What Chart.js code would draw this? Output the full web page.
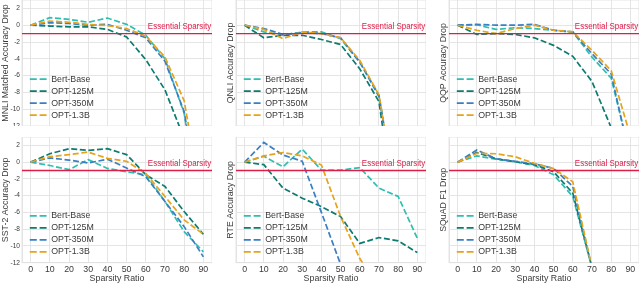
<!DOCTYPE html>
<html><head><meta charset="utf-8">
<script src="https://cdn.jsdelivr.net/npm/chart.js@4.4.0/dist/chart.umd.min.js"></script>
<style>
html,body{margin:0;padding:0;background:#fff;width:640px;height:283px;overflow:hidden;position:relative;}
.c{position:absolute;}
canvas{display:block;}
</style></head><body>
<script>
// ---------- data ----------
const sparsity = [0, 10, 20, 30, 40, 50, 60, 70, 80, 90];
const squadSparsity = [0, 10, 20, 30, 40, 50, 60, 70];
const seriesNames = ['Bert-Base', 'OPT-125M', 'OPT-350M', 'OPT-1.3B'];
const xTicks = [0, 10, 20, 30, 40, 50, 60, 70, 80, 90];
const yTicks = [2, 0, -2, -4, -6, -8, -10, -12];
const essentialLevel = -1;
const essentialText = 'Essential Sparsity';
const xTitle = 'Sparsity Ratio';

const mnliBert = [0, 0.9, 0.7, 0.35, 0.85, 0.1, -1.2, -4.0, -10.5, -25];
const mnli125m = [0, -0.1, -0.2, -0.2, -0.5, -1.4, -4.1, -7.7, -13.5, -20];
const mnli350m = [0, 0.3, 0.2, 0.0, 0.1, -0.6, -1.5, -4.3, -10.3, -24];
const mnli13b  = [0, 0.5, 0.35, 0.1, -0.05, -0.4, -1.3, -3.8, -9.0, -22];

const qnliBert = [0, -0.8, -1.2, -0.8, -0.8, -1.6, -4.4, -8.3, -22, -30];
const qnli125m = [0, -1.5, -1.2, -1.2, -1.7, -2.3, -5.2, -9.1, -25, -30];
const qnli350m = [0, -0.4, -1.1, -0.9, -1.0, -1.5, -4.4, -8.5, -22, -30];
const qnli13b  = [0, -0.5, -1.6, -0.8, -1.0, -1.5, -4.2, -8.3, -22, -30];

const qqpBert = [0, 0.05, -0.5, -0.3, -0.4, -0.6, -0.8, -3.8, -6.3, -15.5];
const qqp125m = [0, -1.1, -1.0, -1.1, -1.5, -2.4, -3.7, -6.7, -12.2, -17];
const qqp350m = [0, 0.1, 0.0, 0.0, 0.1, -0.6, -0.8, -3.4, -5.8, -16];
const qqp13b  = [0, -0.6, -1.0, -0.4, 0.0, -0.6, -0.8, -3.0, -5.4, -13.2];

const sstBert = [0, -0.4, -0.9, 0.3, -0.75, -1.15, -1.5, -4.7, -8.3, -10.7];
const sst125m = [0, 1.0, 1.6, 1.4, 1.6, 0.9, -1.5, -2.9, -5.9, -8.6];
const sst350m = [0, 0.5, 0.25, -0.1, 0.35, -0.7, -1.75, -4.7, -7.7, -11.3];
const sst13b  = [0, 0.65, 0.9, 1.2, 0.45, 0.1, -1.35, -4.1, -6.9, -8.6];

const rteBert = [0, 0.7, -0.55, 1.55, -0.95, -0.95, -0.65, -3.1, -4.1, -9.1];
const rte125m = [0, -0.3, -3.1, -4.3, -5.3, -6.5, -9.7, -9.0, -9.4, -10.8];
const rte350m = [0, 2.35, 0.85, 0.1, -6.0, -12.2, -15, -16, -18, -20];
const rte13b  = [0, 0.75, 1.15, 0.75, -0.35, -6.5, -11.5, -15, -17, -19];

const squadBert = [0, 0.75, 0.35, 0.05, -0.4, -1.5, -4.1, -12.6];
const squad125m = [0, 1.15, 0.4, 0.05, -0.3, -1.15, -3.7, -12.6];
const squad350m = [0, 1.45, 0.4, 0.1, -0.2, -0.75, -2.9, -12.6];
const squad13b  = [0, 1.05, 1.0, 0.65, -0.15, -0.75, -2.35, -12.6];

const panels = [
  {row: 0, col: 0, ylabel: 'MNLI Matched Accuracy Drop', x: sparsity, series: [mnliBert, mnli125m, mnli350m, mnli13b]},
  {row: 0, col: 1, ylabel: 'QNLI Accuracy Drop', x: sparsity, series: [qnliBert, qnli125m, qnli350m, qnli13b]},
  {row: 0, col: 2, ylabel: 'QQP Accuracy Drop', x: sparsity, series: [qqpBert, qqp125m, qqp350m, qqp13b]},
  {row: 1, col: 0, ylabel: 'SST-2 Accuracy Drop', x: sparsity, series: [sstBert, sst125m, sst350m, sst13b]},
  {row: 1, col: 1, ylabel: 'RTE Accuracy Drop', x: sparsity, series: [rteBert, rte125m, rte350m, rte13b]},
  {row: 1, col: 2, ylabel: 'SQuAD F1 Drop', x: squadSparsity, series: [squadBert, squad125m, squad350m, squad13b]}
];

// ---------- style ----------
const FONT = "'Liberation Sans', Arial, sans-serif";
const seriesColors = ['#2dbfb1', '#0c7b70', '#3b7fc3', '#e6a31b'];
const RED = '#dc1e48';
const GRID = '#e2e2e2';
const TEXT = '#3a3a3a';
const X_MIN = -4.5, X_MAX = 94.5, Y_MIN = -12, Y_MAX = 3;
const COL_LEFT = [22, 236, 449];
const PLOT_W = 190;
const ROW_TOP = [0, 137];
const PLOT_H = [126, 125.7];
const Y_AXIS_W = [22, 11, 11];
const X_AXIS_H = [0, 20.3];

Chart.defaults.font.family = FONT;
Chart.defaults.color = TEXT;

const framePlugin = {
  id: 'frame',
  beforeDatasetsDraw(chart) {
    const {ctx, chartArea: a} = chart;
    ctx.save();
    ctx.strokeStyle = GRID;
    ctx.lineWidth = 0.9;
    ctx.strokeRect(a.left, a.top, a.right - a.left, a.bottom - a.top);
    ctx.restore();
  }
};

const essentialLabelPlugin = {
  id: 'essentialLabel',
  afterDatasetsDraw(chart) {
    const {ctx, chartArea, scales} = chart;
    const yy = scales.y.getPixelForValue(essentialLevel);
    ctx.save();
    ctx.fillStyle = RED;
    ctx.font = '9.4px ' + FONT;
    ctx.textAlign = 'right';
    ctx.textBaseline = 'alphabetic';
    ctx.translate(chartArea.right - 0.8, yy - 4.2);
    ctx.scale(0.85, 1);
    ctx.fillText(essentialText, 0, 0);
    ctx.restore();
  }
};

const legendPlacePlugin = {
  id: 'legendPlace',
  afterLayout(chart) {
    const lg = chart.legend;
    if (!lg) return;
    const a = chart.chartArea;
    lg.left = a.left + 4.6;
    lg.top = a.top;
    lg.bottom = a.bottom - 3.2;
  }
};

panels.forEach(p => {
  const L = Y_AXIS_W[p.col];
  const B = X_AXIS_H[p.row];
  const W = L + PLOT_W;
  const H = PLOT_H[p.row] + B;
  const div = document.createElement('div');
  div.className = 'c';
  div.style.left = (COL_LEFT[p.col] - L) + 'px';
  div.style.top = ROW_TOP[p.row] + 'px';
  const cv = document.createElement('canvas');
  cv.width = W; cv.height = H;
  cv.style.width = W + 'px'; cv.style.height = H + 'px';
  div.appendChild(cv);
  document.body.appendChild(div);

  const datasets = p.series.map((vals, i) => ({
    label: seriesNames[i],
    data: vals.map((v, j) => ({x: p.x[j], y: v})),
    borderColor: seriesColors[i],
    backgroundColor: seriesColors[i],
    borderWidth: 1.7,
    borderDash: [6, 2.6],
    pointRadius: 0,
    tension: 0,
    clip: 0,
    order: 4 - i
  }));
  datasets.push({
    label: essentialText,
    data: [{x: X_MIN, y: essentialLevel}, {x: X_MAX, y: essentialLevel}],
    borderColor: RED,
    backgroundColor: RED,
    borderWidth: 1.3,
    pointRadius: 0,
    clip: 0,
    order: 0
  });

  new Chart(cv, {
    type: 'line',
    data: {datasets},
    options: {
      responsive: false,
      maintainAspectRatio: false,
      animation: false,
      events: [],
      layout: {padding: 0},
      scales: {
        x: {
          type: 'linear', min: X_MIN, max: X_MAX,
          afterBuildTicks: s => { s.ticks = xTicks.map(v => ({value: v})); },
          afterFit: s => { s.height = B; s.paddingLeft = 0; s.paddingRight = 0; },
          grid: {color: GRID, lineWidth: 0.9, drawTicks: false},
          border: {display: true, color: GRID, width: 0.9},
          ticks: {display: p.row === 1, padding: 2, autoSkip: false, maxRotation: 0, font: {size: 8.8}, color: TEXT},
          title: {display: p.row === 1, text: xTitle, color: TEXT, font: {size: 8.8, lineHeight: 1}, padding: {top: 0, bottom: 0.5}}
        },
        y: {
          type: 'linear', min: Y_MIN, max: Y_MAX,
          afterBuildTicks: s => { s.ticks = yTicks.map(v => ({value: v})); },
          afterFit: s => { s.width = L; s.paddingTop = 0; s.paddingBottom = 0; },
          grid: {color: GRID, lineWidth: 0.9, drawTicks: false},
          border: {display: true, color: GRID, width: 0.9},
          ticks: {display: p.col === 0, padding: 2, autoSkip: false, font: {size: 6.6}, color: TEXT},
          title: {display: true, text: p.ylabel, color: TEXT, font: {size: 8.8, lineHeight: 1.2}, padding: {top: 0.4, bottom: 0}}
        }
      },
      plugins: {
        tooltip: {enabled: false},
        legend: {
          display: true,
          position: 'chartArea',
          align: 'end',
          labels: {
            usePointStyle: true,
            pointStyle: 'line',
            pointStyleWidth: 17,
            boxWidth: 17,
            boxHeight: 8.8,
            padding: 3.2,
            color: TEXT,
            font: {size: 8.8},
            filter: item => item.datasetIndex < seriesNames.length,
            sort: (a, b) => a.datasetIndex - b.datasetIndex,
            generateLabels: chart => {
              const items = Chart.defaults.plugins.legend.labels.generateLabels(chart);
              items.forEach(it => { it.lineDash = [7, 2.8]; it.lineWidth = 1.7; });
              return items;
            }
          }
        }
      }
    },
    plugins: [framePlugin, essentialLabelPlugin, legendPlacePlugin]
  });
});
</script>
</body></html>
